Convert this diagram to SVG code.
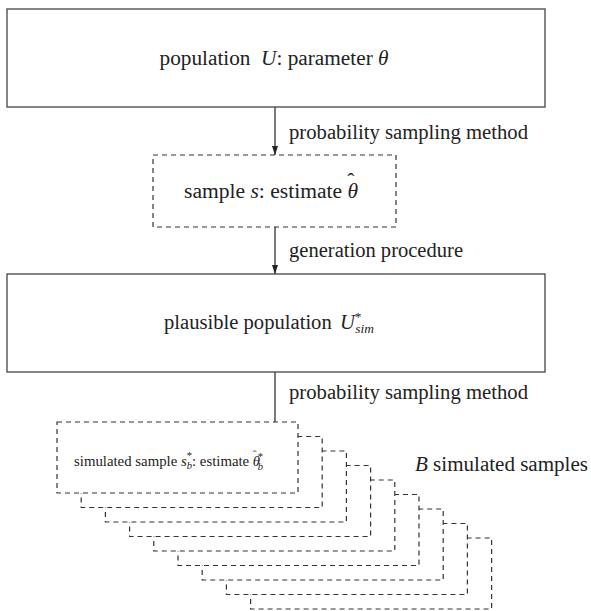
<svg xmlns="http://www.w3.org/2000/svg" width="591" height="611" viewBox="0 0 591 611" font-family="Liberation Serif, DejaVu Serif, serif">
<style>
text{font-family:"Liberation Serif","DejaVu Serif",serif;fill:#222}
.t{font-size:20px}
.s{font-size:14px}
.i{font-style:italic}
.box{fill:#fff;stroke:#444;stroke-width:1.3}
.dash{fill:#fff;stroke:#333;stroke-width:1.2;stroke-dasharray:5 4}
.edge{fill:none;stroke:#222;stroke-width:1.2}
</style>
<defs>
<marker id="arr" viewBox="0 0 10 10" refX="10" refY="5" markerWidth="9" markerHeight="6" preserveAspectRatio="none" orient="auto" markerUnits="userSpaceOnUse">
<path d="M0,0 L10,5 L0,10 z" fill="#222"/>
</marker>
</defs>

<!-- connectors -->
<g id="connectors">
<path class="edge" d="M275,107 V155" marker-end="url(#arr)"/>
<path class="edge" d="M275,227 V274" marker-end="url(#arr)"/>
<path class="edge" d="M275,372 V422"/>
<text class="t" x="289" y="139" textLength="239" lengthAdjust="spacingAndGlyphs">probability sampling method</text>
<text class="t" x="289" y="257" textLength="174" lengthAdjust="spacingAndGlyphs">generation procedure</text>
<text class="t" x="289" y="399" textLength="239" lengthAdjust="spacingAndGlyphs">probability sampling method</text>
</g>

<!-- population -->
<g id="population">
<rect class="box" x="7" y="9" width="538" height="98"/>
<text class="t" x="274" y="65" text-anchor="middle" textLength="229" lengthAdjust="spacingAndGlyphs">population <tspan class="i" dx="5">U</tspan>: parameter <tspan class="i">θ</tspan></text>
</g>

<!-- observed sample -->
<g id="sample">
<rect class="dash" x="153" y="155" width="243" height="72"/>
<text class="t" x="271" y="198" text-anchor="middle" textLength="174" lengthAdjust="spacingAndGlyphs">sample <tspan class="i">s</tspan>: estimate <tspan class="i">θ</tspan><tspan dx="-10" dy="-10">ˆ</tspan></text>
</g>

<!-- plausible population -->
<g id="plausible">
<rect class="box" x="7" y="274" width="538" height="98"/>
<text class="t" x="269" y="329" text-anchor="middle" textLength="210" lengthAdjust="spacingAndGlyphs">plausible population <tspan class="i" dx="3">U</tspan><tspan font-size="13" dy="-8">*</tspan><tspan class="i" font-size="13" dx="-6" dy="12">sim</tspan></text>
</g>

<!-- B simulated samples, drawn back to front -->
<g id="simulated-samples">
<rect class="dash" x="250.6" y="538" width="241" height="71"/>
<rect class="dash" x="226.4" y="523.5" width="241" height="71"/>
<rect class="dash" x="202.2" y="509" width="241" height="71"/>
<rect class="dash" x="178" y="494.5" width="241" height="71"/>
<rect class="dash" x="153.8" y="480" width="241" height="71"/>
<rect class="dash" x="129.6" y="465.5" width="241" height="71"/>
<rect class="dash" x="105.4" y="451" width="241" height="71"/>
<rect class="dash" x="81.2" y="436.5" width="241" height="71"/>
<rect class="dash" x="57" y="422" width="241" height="71"/>
<text class="s" x="74" y="466" textLength="189" lengthAdjust="spacingAndGlyphs">simulated sample <tspan class="i">s</tspan><tspan font-size="10" dy="-7">*</tspan><tspan class="i" font-size="10" dx="-5" dy="10">b</tspan><tspan dy="-3">: estimate </tspan><tspan class="i">θ</tspan><tspan font-size="11" dx="-7" dy="-8">ˆ</tspan><tspan font-size="10" dx="1" dy="2">*</tspan><tspan class="i" font-size="10" dx="-5" dy="10">b</tspan></text>
</g>

<g id="count-label">
<text class="t" x="415" y="471" textLength="173" lengthAdjust="spacingAndGlyphs"><tspan class="i">B</tspan>  simulated samples</text>
</g>
</svg>
